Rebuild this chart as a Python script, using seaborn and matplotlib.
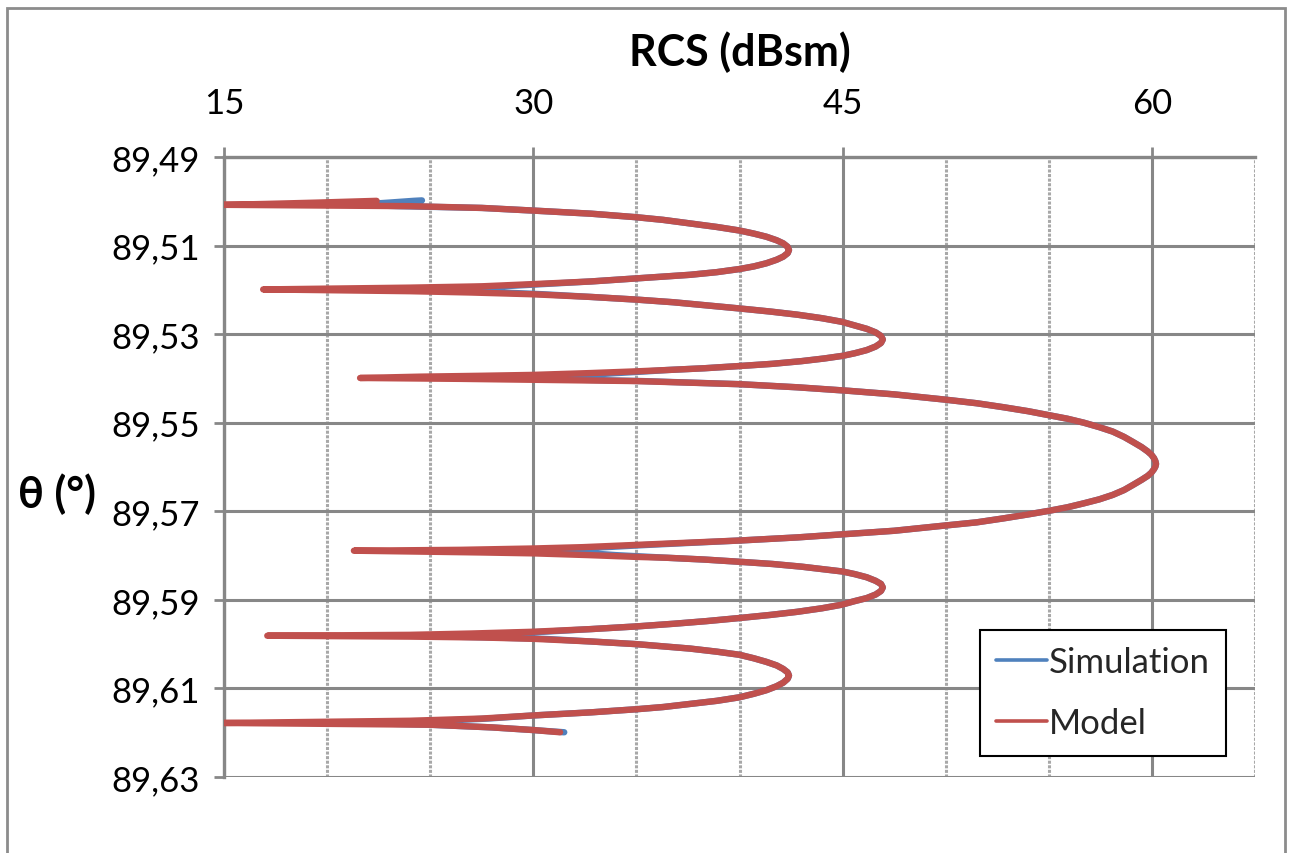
import numpy as np
import pandas as pd
import matplotlib
matplotlib.use("Agg")
import matplotlib.pyplot as plt
from matplotlib.patches import Rectangle
from matplotlib.ticker import FuncFormatter
from matplotlib.lines import Line2D
import seaborn as sns

# ---------------- data ----------------
# incidence angle theta (deg); one line per lobe of the pattern
theta = [
    89.4998, 89.4999, 89.5003, 89.5006, 89.5008,
    89.5011, 89.5015, 89.5021, 89.5028, 89.5036, 89.5042, 89.5050, 89.5058, 89.5066, 89.5073,
    89.5080, 89.5088, 89.5095, 89.5103, 89.5110, 89.5117, 89.5125, 89.5132, 89.5140, 89.5147,
    89.5153, 89.5160, 89.5166, 89.5170, 89.5174, 89.5181, 89.5187, 89.5192, 89.5195,
    89.5199, 89.5203, 89.5206, 89.5210, 89.5216, 89.5222, 89.5228, 89.5235, 89.5242, 89.5249,
    89.5256, 89.5264, 89.5272, 89.5280, 89.5288, 89.5296, 89.5304, 89.5312, 89.5320, 89.5328,
    89.5336, 89.5343, 89.5349, 89.5355, 89.5361, 89.5367, 89.5372, 89.5377, 89.5381, 89.5384,
    89.5388, 89.5392, 89.5394, 89.5396,
    89.5399, 89.5401, 89.5403, 89.5406, 89.5413, 89.5420, 89.5428, 89.5436, 89.5448, 89.5456,
    89.5465, 89.5474, 89.5483, 89.5491, 89.5500, 89.5510, 89.5520, 89.5532, 89.5544, 89.5555,
    89.5565, 89.5572, 89.5580, 89.5587, 89.5593, 89.5599, 89.5605, 89.5613, 89.5620, 89.5629,
    89.5640, 89.5652, 89.5663, 89.5673, 89.5682, 89.5691, 89.5699, 89.5707, 89.5716, 89.5725,
    89.5732, 89.5744, 89.5751, 89.5759, 89.5766, 89.5776, 89.5781, 89.5784, 89.5787,
    89.5789, 89.5791, 89.5793, 89.5795, 89.5799, 89.5803, 89.5805, 89.5809, 89.5814, 89.5819,
    89.5825, 89.5831, 89.5836, 89.5842, 89.5849, 89.5857, 89.5864, 89.5872, 89.5880, 89.5888,
    89.5896, 89.5903, 89.5911, 89.5919, 89.5927, 89.5934, 89.5941, 89.5948, 89.5954, 89.5960,
    89.5966, 89.5972, 89.5976, 89.5979,
    89.5981, 89.5983, 89.5985, 89.5988, 89.5994, 89.6000, 89.6005, 89.6010, 89.6017, 89.6024,
    89.6032, 89.6040, 89.6048, 89.6056, 89.6064, 89.6071, 89.6078, 89.6087, 89.6095, 89.6104,
    89.6112, 89.6120, 89.6128, 89.6135, 89.6142, 89.6147, 89.6154, 89.6161, 89.6168, 89.6173,
    89.6178, 89.6182, 89.6188, 89.6194, 89.6199,
]

# RCS of the model (dBsm)
rcs_model = [
    np.nan, 22.4, 19.5, 17.0, 15.0,
    24.0, 27.5, 30.0, 32.8, 35.0, 36.3, 37.6, 38.9, 40.0, 40.7,
    41.3, 41.8, 42.12, 42.34, 42.4, 42.34, 42.12, 41.8, 41.3, 40.7,
    40.0, 38.9, 37.6, 36.3, 35.0, 32.8, 30.0, 27.5, 24.0,
    16.9, 24.0, 27.0, 30.0, 32.8, 35.0, 36.8, 38.4, 40.0, 41.5,
    42.8, 44.0, 44.95, 45.57, 46.17, 46.6, 46.86, 46.95, 46.86, 46.6,
    46.17, 45.6, 45.0, 44.1, 43.0, 41.6, 40.0, 38.3, 36.5, 35.0,
    32.7, 30.0, 27.5, 24.5,
    21.6, 26.5, 30.0, 35.0, 40.0, 42.8, 45.3, 47.5, 50.0, 51.5,
    52.8, 54.0, 55.0, 55.9, 56.7, 57.45, 58.1, 58.65, 59.1, 59.5,
    59.8, 59.97, 60.1, 60.17, 60.2, 60.17, 60.1, 59.97, 59.8, 59.5,
    59.1, 58.65, 58.1, 57.45, 56.7, 55.9, 55.0, 54.0, 52.8, 51.5,
    50.0, 47.5, 45.3, 42.8, 40.0, 35.0, 32.4, 30.0, 26.5,
    21.3, 24.5, 27.5, 30.0, 32.7, 35.0, 36.5, 38.3, 40.0, 41.6,
    43.0, 44.1, 45.0, 45.6, 46.17, 46.6, 46.86, 46.95, 46.86, 46.6,
    46.17, 45.57, 44.95, 44.0, 42.8, 41.5, 40.0, 38.4, 36.8, 35.0,
    32.8, 30.0, 27.0, 24.0,
    17.1, 24.0, 27.5, 30.0, 32.8, 35.0, 36.3, 37.6, 38.9, 40.0,
    40.7, 41.3, 41.8, 42.12, 42.34, 42.4, 42.34, 42.12, 41.8, 41.3,
    40.7, 40.0, 38.9, 37.6, 36.3, 35.0, 32.8, 30.0, 27.5, 24.0,
    15.0, 25.0, 28.0, 30.0, 31.3,
]

# RCS of the simulation (dBsm)
rcs_sim = [
    24.6, 24.2, 23.0, 22.0, 21.4,
    23.5, 27.5, 30.0, 32.8, 35.0, 36.3, 37.6, 38.9, 40.0, 40.7,
    41.3, 41.8, 42.12, 42.34, 42.4, 42.34, 42.12, 41.8, 41.3, 40.7,
    40.0, 38.9, 37.6, 36.3, 35.0, 32.8, 30.5, 28.5, 26.5,
    25.0, 26.5, 28.5, 30.5, 32.8, 35.0, 36.8, 38.4, 40.0, 41.5,
    42.8, 44.0, 44.95, 45.57, 46.17, 46.6, 46.86, 46.95, 46.86, 46.6,
    46.17, 45.6, 45.0, 44.1, 43.0, 41.6, 40.0, 38.3, 36.5, 35.5,
    34.0, 32.7, 32.0, 31.5,
    31.0, 31.5, 32.3, 35.3, 40.0, 42.8, 45.3, 47.5, 50.0, 51.5,
    52.8, 54.0, 55.0, 55.9, 56.7, 57.45, 58.1, 58.65, 59.1, 59.5,
    59.8, 59.97, 60.1, 60.17, 60.2, 60.17, 60.1, 59.97, 59.8, 59.5,
    59.1, 58.65, 58.1, 57.45, 56.7, 55.9, 55.0, 54.0, 52.8, 51.5,
    50.0, 47.5, 45.3, 42.8, 40.0, 35.5, 33.5, 32.0, 31.0,
    30.5, 31.0, 31.8, 32.8, 34.0, 35.6, 36.5, 38.3, 40.0, 41.6,
    43.0, 44.1, 45.0, 45.6, 46.17, 46.6, 46.86, 46.95, 46.86, 46.6,
    46.17, 45.57, 44.95, 44.0, 42.8, 41.5, 40.0, 38.4, 36.8, 35.0,
    32.8, 30.5, 28.5, 26.5,
    25.0, 26.0, 28.0, 30.5, 32.8, 35.0, 36.3, 37.6, 38.9, 40.0,
    40.7, 41.3, 41.8, 42.12, 42.34, 42.4, 42.34, 42.12, 41.8, 41.3,
    40.7, 40.0, 38.9, 37.6, 36.3, 35.0, 32.8, 30.0, 27.8, 25.5,
    21.5, 25.0, 28.0, 30.0, 31.5,
]

assert len(theta) == len(rcs_model) == len(rcs_sim)

series_names = ["Simulation", "Model"]
x_major_ticks = [15, 30, 45, 60]
x_minor_ticks = [20, 25, 35, 40, 50, 55, 65]
y_ticks = [89.49, 89.51, 89.53, 89.55, 89.57, 89.59, 89.61, 89.63]

# ---------------- long table ----------------
df = pd.concat([
    pd.DataFrame({"theta": theta, "rcs": rcs_sim, "series": series_names[0]}),
    pd.DataFrame({"theta": theta, "rcs": rcs_model, "series": series_names[1]}),
], ignore_index=True).dropna()

# ---------------- styling ----------------
sns.set_theme(style="white")
plt.rcParams["font.family"] = ["Lato", "DejaVu Sans"]

grid_col = "#878787"
blue = "#4F81BD"
red = "#C0504D"

W, H = 1295, 854
fig = plt.figure(figsize=(W / 100, H / 100), dpi=100)
ax = fig.add_axes([224 / W, 1 - 778 / H, (1255 - 224) / W, (778 - 158) / H])

sns.lineplot(data=df, x="rcs", y="theta", hue="series", hue_order=series_names,
             palette={"Simulation": blue, "Model": red}, sort=False, estimator=None,
             orient="y", linewidth=4.6, ax=ax, legend=False)
for ln in ax.lines:
    ln.set_solid_capstyle("round")
    ln.set_solid_joinstyle("round")
    ln.set_zorder(3)

ax.set_xlim(15, 65)
ax.set_ylim(89.63, 89.49)
ax.set_xlabel("")
ax.set_ylabel("")

ax.xaxis.tick_top()
ax.set_xticks(x_major_ticks)
ax.set_xticks(x_minor_ticks, minor=True)
ax.set_yticks(y_ticks)
ax.yaxis.set_major_formatter(FuncFormatter(lambda v, p: f"{v:.2f}".replace(".", ",")))

ax.grid(which="major", axis="both", color=grid_col, linewidth=2.2, zorder=0)
ax.grid(which="minor", axis="x", color="#a8a8a8", linewidth=2.2, linestyle=(0, (1.0, 0.5)), zorder=0)
ax.set_axisbelow(True)

for s in ["right", "bottom"]:
    ax.spines[s].set_visible(False)
for s in ["left", "top"]:
    ax.spines[s].set_color(grid_col)
    ax.spines[s].set_linewidth(2.4)

ax.tick_params(axis="x", which="major", direction="out", length=7.5, width=2,
               color=grid_col, labelsize=25, pad=19.5, labelcolor="black",
               top=True, bottom=False, labeltop=True, labelbottom=False)
ax.tick_params(axis="x", which="minor", length=0)
ax.tick_params(axis="y", which="major", direction="out", length=7.5, width=2,
               color=grid_col, labelsize=25, pad=10, labelcolor="black", left=True)

# axis titles
fig.text(740 / W, 1 - 66 / H, "RCS (dBsm)", ha="center", va="baseline",
         fontsize=31, fontweight="bold", color="black")
fig.text(18 / W, 1 - 508 / H, "θ (°)", ha="left", va="baseline",
         fontsize=31, fontweight="bold", color="black")

# legend
handles = [Line2D([], [], color=blue, linewidth=2.6),
           Line2D([], [], color=red, linewidth=2.6)]
leg = ax.legend(handles, series_names, loc="upper left",
                bbox_to_anchor=((980 - 224) / 1031, 1 - (631 - 158) / 620),
                fontsize=25, frameon=True, fancybox=False, shadow=False,
                handlelength=1.45, handletextpad=0.05, labelspacing=0.84,
                borderpad=0.47, borderaxespad=0.0)
leg.get_frame().set_edgecolor("black")
leg.get_frame().set_linewidth(1.5)
leg.get_frame().set_facecolor("white")
leg.get_frame().set_alpha(1)
leg.set_zorder(5)

# outer chart border
fig.patches.append(Rectangle((7 / W, -0.1), (1285 - 7) / W, 1.1 - 9 / H,
                             transform=fig.transFigure, fill=False,
                             edgecolor="#8c8c8c", linewidth=2.0))

fig.savefig("out.png", dpi=100, facecolor="white")
